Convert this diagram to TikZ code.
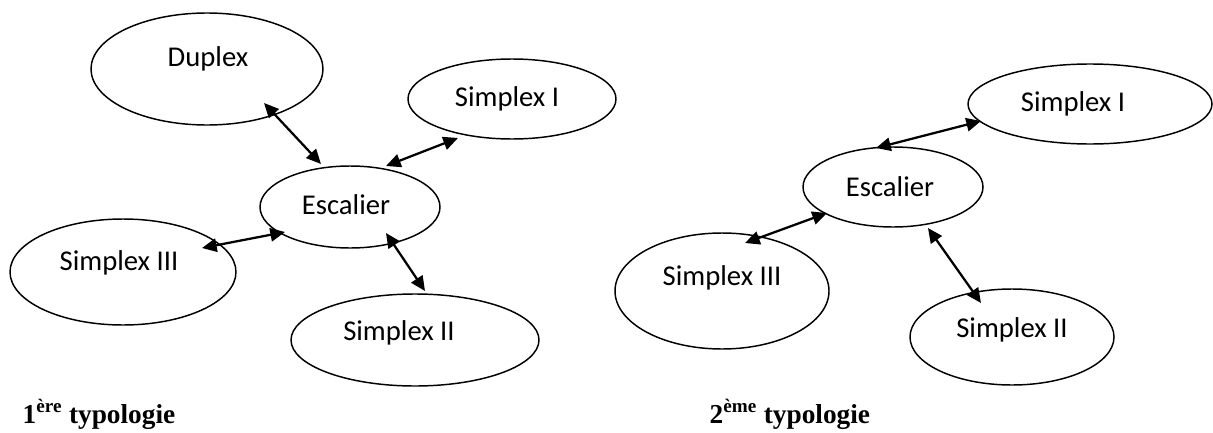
\documentclass[tikz,border=0pt]{standalone}
\usepackage{fontspec}
\setmainfont{Liberation Serif}
\newfontfamily\boxfont{Carlito}
\usetikzlibrary{shapes.geometric,arrows.meta}

\tikzset{
  room/.style={draw, ellipse, line width=1.1pt, inner sep=0pt},
  roomtext/.style={font=\boxfont\fontsize{21.5}{25}\selectfont},
  link/.style={{Triangle[length=11pt,width=10pt]}-{Triangle[length=11pt,width=10pt]}, line width=1.7pt},
  title/.style={anchor=base west, font=\bfseries\fontsize{20.5}{25}\selectfont}
}

\begin{document}
\begin{tikzpicture}[x=0.75pt,y=-0.75pt,every label/.style={roomtext}]
\useasboundingbox (0,0) rectangle (1213,432);

% 1ere typologie
\node[room, minimum width=174pt, minimum height=84pt, label={[shift={(1,-10)}]center:Duplex}] (dup1) at (207,69) {};
\node[room, minimum width=156pt, minimum height=60pt, label={[shift={(-5,0)}]center:Simplex I}] (si1) at (512,99) {};
\node[room, minimum width=135pt, minimum height=61.5pt, label={[shift={(-4,-2)}]center:Escalier}] (esc1) at (350,207) {};
\node[room, minimum width=169.5pt, minimum height=79.5pt, label={[shift={(-4,-9)}]center:Simplex III}] (siii1) at (123,272) {};
\node[room, minimum width=186pt, minimum height=69pt, label={[shift={(-16,-7)}]center:Simplex II}] (sii1) at (415,340) {};

\draw[link] ([shift={(57,34)}]dup1.center) -- ([shift={(-29,-43)}]esc1.center);
\draw[link] ([shift={(36,-41)}]esc1.center) -- ([shift={(-54,39)}]si1.center);
\draw[link] ([shift={(79,-24)}]siii1.center) -- ([shift={(-65,25)}]esc1.center);
\draw[link] ([shift={(36,26)}]esc1.center) -- ([shift={(10,-49)}]sii1.center);

\node[title] (t1) at (18,423) {1\textsuperscript{ère} typologie};

% 2eme typologie
\node[room, minimum width=183pt, minimum height=60pt, label={[shift={(-17,0)}]center:Simplex I}] (si2) at (1090,104) {};
\node[room, minimum width=135pt, minimum height=60pt, label={[shift={(-3,0)}]center:Escalier}] (esc2) at (893,187) {};
\node[room, minimum width=160.5pt, minimum height=87pt, label={[shift={(0,-13)}]center:Simplex III}] (siii2) at (722,291) {};
\node[room, minimum width=153pt, minimum height=72pt, label={[shift={(0,-7)}]center:Simplex II}] (sii2) at (1012,337) {};

\draw[link] ([shift={(-17,-39)}]esc2.center) -- ([shift={(-109,17)}]si2.center);
\draw[link] ([shift={(23,-48)}]siii2.center) -- ([shift={(-66,26)}]esc2.center);
\draw[link] ([shift={(35,41)}]esc2.center) -- ([shift={(-31,-34)}]sii2.center);

\node[title] (t2) at (705,423) {2\textsuperscript{ème} typologie};
\end{tikzpicture}
\end{document}
